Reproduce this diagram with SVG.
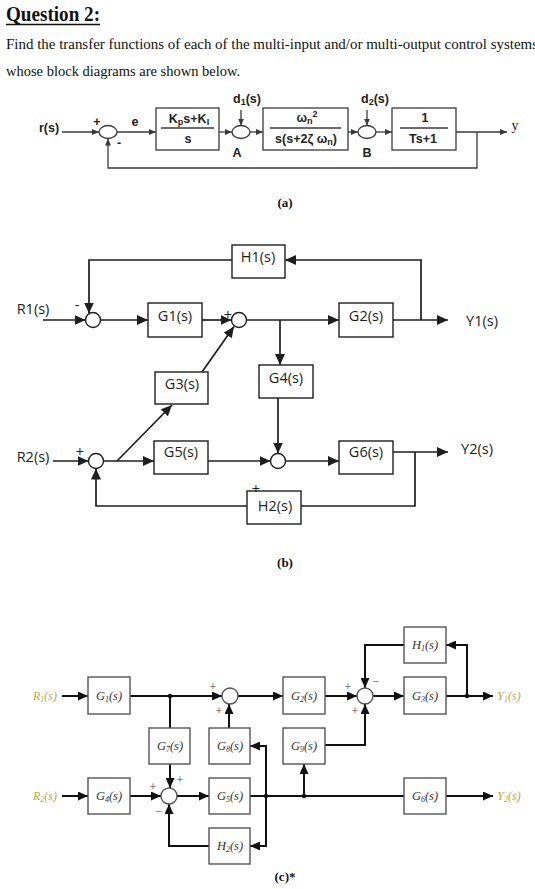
<svg xmlns="http://www.w3.org/2000/svg" width="535" height="889" viewBox="0 0 535 889">
<style>
.bg{fill:#fff}
.hd{font-family:"Liberation Serif",serif;fill:#111}
.cap{font-family:"Liberation Serif",serif;font-weight:bold;font-size:13px;fill:#111;text-anchor:middle}
.la{stroke:#3a3a3a;stroke-width:1.3;fill:none}
.ba{stroke:#3a3a3a;stroke-width:1.3;fill:#fff}
.ta{font-family:"Liberation Sans",Arial,sans-serif;font-size:12.5px;font-weight:bold;fill:#222;text-anchor:middle}
.lb{stroke:#1e1e1e;stroke-width:1.7;fill:none}
.bb{stroke:#1e1e1e;stroke-width:1.4;fill:#fff}
.tb{font-family:"Open Sans","Noto Sans",sans-serif;font-size:14.5px;fill:#1e1e1e;text-anchor:middle}
.lc{stroke:#111;stroke-width:2;fill:none}
.bc{stroke:#555;stroke-width:1.4;fill:#fff}
.tc{font-family:"Liberation Serif",serif;font-style:italic;font-size:12.5px;fill:#333;text-anchor:middle}
.io{font-family:"Liberation Serif",serif;font-style:italic;font-size:12px;fill:#c2a63a;text-anchor:middle}
.sg{font-family:"Liberation Serif",serif;font-size:12px;fill:#444;text-anchor:middle}
</style>
<defs>
<marker id="ma" markerUnits="userSpaceOnUse" markerWidth="7" markerHeight="6" refX="7" refY="3" orient="auto"><path d="M0,0 L7,3 L0,6 z" fill="#3a3a3a"/></marker>
<marker id="mb" markerUnits="userSpaceOnUse" markerWidth="11" markerHeight="10" refX="11" refY="5" orient="auto"><path d="M0,0 L11,5 L0,10 z" fill="#1e1e1e"/></marker>
<marker id="mc" markerUnits="userSpaceOnUse" markerWidth="10" markerHeight="9" refX="10" refY="4.5" orient="auto"><path d="M0,0 L10,4.5 L0,9 z" fill="#111"/></marker>
</defs>
<rect class="bg" x="0" y="0" width="535" height="889"/>

<g id="header">
<text class="hd" x="6" y="21" font-size="21" font-weight="bold" textLength="94" lengthAdjust="spacingAndGlyphs">Question 2:</text>
<line x1="6" y1="24.5" x2="100" y2="24.5" stroke="#111" stroke-width="1.5"/>
<text class="hd" x="6" y="49" font-size="14.5" textLength="532" lengthAdjust="spacingAndGlyphs">Find the transfer functions of each of the multi-input and/or multi-output control systems</text>
<text class="hd" x="6" y="76" font-size="14.5">whose block diagrams are shown below.</text>
</g>

<!-- ===== (a) ===== -->
<g id="a-connectors">
<line class="la" x1="62" y1="132" x2="99" y2="132" marker-end="url(#ma)"/>
<line class="la" x1="117" y1="132" x2="156" y2="132" marker-end="url(#ma)"/>
<line class="la" x1="219" y1="132" x2="232" y2="132" marker-end="url(#ma)"/>
<line class="la" x1="241" y1="110" x2="241" y2="125.5" marker-end="url(#ma)"/>
<line class="la" x1="250" y1="132" x2="263" y2="132" marker-end="url(#ma)"/>
<line class="la" x1="348" y1="132" x2="358" y2="132" marker-end="url(#ma)"/>
<line class="la" x1="367" y1="110" x2="367" y2="125.5" marker-end="url(#ma)"/>
<line class="la" x1="376" y1="132" x2="392" y2="132" marker-end="url(#ma)"/>
<line class="la" x1="456" y1="132" x2="507" y2="132" marker-end="url(#ma)"/>
<polyline class="la" points="477,132 477,168 108,168 108,138.5" marker-end="url(#ma)"/>
</g>
<g id="a-labels">
<text class="ta" x="49" y="132">r(s)</text>
<text class="ta" x="97" y="126">+</text>
<text class="ta" x="119" y="147">-</text>
<text class="ta" x="135" y="126">e</text>
<text class="ta" x="247" y="103">d<tspan font-size="9" dy="2">1</tspan><tspan dy="-2">(s)</tspan></text>
<text class="ta" x="237" y="157">A</text>
<text class="ta" x="375" y="103">d<tspan font-size="9" dy="2">2</tspan><tspan dy="-2">(s)</tspan></text>
<text class="ta" x="367" y="157">B</text>
<text x="515" y="130" font-family="Liberation Serif,serif" font-size="14" fill="#222" text-anchor="middle">y</text>
<text class="cap" x="285" y="207">(a)</text>
</g>
<g id="a-sum1"><ellipse class="ba" cx="108" cy="132" rx="9" ry="6.5"/></g>
<g id="a-sumA"><ellipse class="ba" cx="241" cy="132" rx="9" ry="6.5"/></g>
<g id="a-sumB"><ellipse class="ba" cx="367" cy="132" rx="9" ry="6.5"/></g>
<g id="a-pi">
<rect class="ba" x="156" y="108" width="63" height="42"/>
<line class="la" x1="161" y1="128" x2="214" y2="128"/>
<text class="ta" x="189" y="123">K<tspan font-size="9" dy="2">p</tspan><tspan dy="-2">s+K</tspan><tspan font-size="9" dy="2">I</tspan></text>
<text class="ta" x="188" y="143">s</text>
</g>
<g id="a-plant">
<rect class="ba" x="263" y="108" width="85" height="42"/>
<line class="la" x1="270" y1="128" x2="341" y2="128"/>
<text class="ta" x="307" y="122">ω<tspan font-size="9" dy="2">n</tspan><tspan font-size="9" dy="-7">2</tspan></text>
<text class="ta" x="306" y="143">s(s+2ζ ω<tspan font-size="9" dy="2">n</tspan><tspan dy="-2">)</tspan></text>
</g>
<g id="a-lag">
<rect class="ba" x="392" y="108" width="64" height="42"/>
<line class="la" x1="400" y1="128" x2="448" y2="128"/>
<text class="ta" x="425" y="122">1</text>
<text class="ta" x="423" y="143">Ts+1</text>
</g>

<!-- ===== (b) ===== -->
<g id="b-connectors">
<polyline class="lb" points="421,320 421,260 285,260" marker-end="url(#mb)"/>
<polyline class="lb" points="232,260 89,260 89,313.5" marker-end="url(#mb)"/>
<line class="lb" x1="43" y1="320" x2="85.5" y2="320" marker-end="url(#mb)"/>
<line class="lb" x1="100.5" y1="320" x2="148" y2="320" marker-end="url(#mb)"/>
<line class="lb" x1="202" y1="320" x2="231.5" y2="320" marker-end="url(#mb)"/>
<line class="lb" x1="246.5" y1="320" x2="339" y2="320" marker-end="url(#mb)"/>
<line class="lb" x1="280" y1="320" x2="280" y2="365" marker-end="url(#mb)"/>
<line class="lb" x1="393" y1="320" x2="448" y2="320" marker-end="url(#mb)"/>
<line class="lb" x1="202" y1="372" x2="234" y2="326.5" marker-end="url(#mb)"/>
<line class="lb" x1="53" y1="461" x2="88.5" y2="461" marker-end="url(#mb)"/>
<line class="lb" x1="103.5" y1="461" x2="154" y2="461" marker-end="url(#mb)"/>
<line class="lb" x1="117" y1="461" x2="172" y2="405" marker-end="url(#mb)"/>
<line class="lb" x1="208" y1="461" x2="270.5" y2="461" marker-end="url(#mb)"/>
<line class="lb" x1="278" y1="398" x2="278" y2="453.5" marker-end="url(#mb)"/>
<line class="lb" x1="285.5" y1="461" x2="339" y2="461" marker-end="url(#mb)"/>
<line class="lb" x1="393" y1="452" x2="448" y2="452" marker-end="url(#mb)"/>
<polyline class="lb" points="415,452 415,506 301,506"/>
<polyline class="lb" points="247,506 96,506 96,468.5" marker-end="url(#mb)"/>
</g>
<g id="b-labels">
<text class="tb" x="33" y="314">R1(s)</text>
<text class="tb" x="482" y="326">Y1(s)</text>
<text class="tb" x="33" y="462">R2(s)</text>
<text class="tb" x="477" y="454">Y2(s)</text>
<text class="tb" x="77" y="310">-</text>
<text class="tb" x="228" y="320" font-size="12">+</text>
<text class="tb" x="80" y="457" font-size="12">+</text>
<text class="cap" x="285" y="567">(b)</text>
</g>
<g id="b-sum1"><circle class="bb" cx="93" cy="320" r="7.5"/></g>
<g id="b-sum2"><circle class="bb" cx="239" cy="320" r="7.5"/></g>
<g id="b-sum3"><circle class="bb" cx="96" cy="461" r="7.5"/></g>
<g id="b-sum4"><circle class="bb" cx="278" cy="461" r="7.5"/></g>
<g id="b-H1"><rect class="bb" x="232" y="245" width="53" height="33"/><text class="tb" x="258" y="262">H1(s)</text></g>
<g id="b-G1"><rect class="bb" x="148" y="303" width="54" height="34"/><text class="tb" x="175" y="321">G1(s)</text></g>
<g id="b-G2"><rect class="bb" x="339" y="303" width="54" height="34"/><text class="tb" x="366" y="321">G2(s)</text></g>
<g id="b-G3"><rect class="bb" x="155" y="372" width="53" height="32"/><text class="tb" x="182" y="389">G3(s)</text></g>
<g id="b-G4"><rect class="bb" x="259" y="365" width="54" height="33"/><text class="tb" x="286" y="383">G4(s)</text></g>
<g id="b-G5"><rect class="bb" x="154" y="441" width="54" height="33"/><text class="tb" x="181" y="457">G5(s)</text></g>
<g id="b-G6"><rect class="bb" x="339" y="441" width="54" height="33"/><text class="tb" x="366" y="457">G6(s)</text></g>
<g id="b-H2"><rect class="bb" x="247" y="491" width="54" height="33"/><text class="tb" x="275" y="511">H2(s)</text><text class="tb" x="256" y="493.5" font-size="8">+</text></g>

<!-- ===== (c) ===== -->
<g id="c-connectors">
<line class="lc" x1="62" y1="696" x2="88" y2="696" marker-end="url(#mc)"/>
<line class="lc" x1="130" y1="696" x2="222" y2="696" marker-end="url(#mc)"/>
<line class="lc" x1="170" y1="696" x2="170" y2="728"/>
<line class="lc" x1="229" y1="728" x2="229" y2="704" marker-end="url(#mc)"/>
<line class="lc" x1="238" y1="696" x2="283" y2="696" marker-end="url(#mc)"/>
<line class="lc" x1="325" y1="696" x2="357" y2="696" marker-end="url(#mc)"/>
<line class="lc" x1="373" y1="696" x2="404" y2="696" marker-end="url(#mc)"/>
<line class="lc" x1="446" y1="696" x2="493" y2="696" marker-end="url(#mc)"/>
<polyline class="lc" points="467,696 467,645 446,645" marker-end="url(#mc)"/>
<polyline class="lc" points="404,645 365,645 365,688" marker-end="url(#mc)"/>
<polyline class="lc" points="325,745 365,745 365,704" marker-end="url(#mc)"/>
<line class="lc" x1="62" y1="796" x2="88" y2="796" marker-end="url(#mc)"/>
<line class="lc" x1="130" y1="796" x2="161" y2="796" marker-end="url(#mc)"/>
<line class="lc" x1="170" y1="764" x2="170" y2="788" marker-end="url(#mc)"/>
<line class="lc" x1="177" y1="796" x2="209" y2="796" marker-end="url(#mc)"/>
<line class="lc" x1="250" y1="796" x2="404" y2="796"/>
<line class="lc" x1="304" y1="796" x2="304" y2="764" marker-end="url(#mc)"/>
<line class="lc" x1="266" y1="745" x2="266" y2="847"/>
<line class="lc" x1="266" y1="746" x2="250" y2="746" marker-end="url(#mc)"/>
<line class="lc" x1="266" y1="846" x2="250" y2="846" marker-end="url(#mc)"/>
<polyline class="lc" points="209,846 169,846 169,804" marker-end="url(#mc)"/>
<line class="lc" x1="446" y1="796" x2="493" y2="796" marker-end="url(#mc)"/>
<circle cx="170" cy="696" r="2.2" fill="#111"/>
<circle cx="467" cy="696" r="2.2" fill="#111"/>
<circle cx="266" cy="796" r="2.2" fill="#111"/>
<circle cx="304" cy="796" r="2.2" fill="#111"/>
</g>
<g id="c-labels">
<text class="io" x="45" y="700">R<tspan font-size="8" dy="2">1</tspan><tspan dy="-2">(s)</tspan></text>
<text class="io" x="45" y="800">R<tspan font-size="8" dy="2">2</tspan><tspan dy="-2">(s)</tspan></text>
<text class="io" x="509" y="700">Y<tspan font-size="8" dy="2">1</tspan><tspan dy="-2">(s)</tspan></text>
<text class="io" x="509" y="800">Y<tspan font-size="8" dy="2">2</tspan><tspan dy="-2">(s)</tspan></text>
<text class="sg" x="213" y="691">+</text>
<text class="sg" x="219" y="715">+</text>
<text class="sg" x="348" y="691">+</text>
<text class="sg" x="376" y="685">−</text>
<text class="sg" x="355" y="715">+</text>
<text class="sg" x="153" y="791">+</text>
<text class="sg" x="180" y="784">+</text>
<text class="sg" x="159" y="815">−</text>
<text class="cap" x="285" y="881">(c)*</text>
</g>
<g id="c-sum1"><circle class="bc" cx="230" cy="696" r="8"/></g>
<g id="c-sum2"><circle class="bc" cx="365" cy="696" r="8"/></g>
<g id="c-sum3"><circle class="bc" cx="169" cy="796" r="8"/></g>
<g id="c-G1"><rect class="bc" x="88" y="677" width="42" height="37"/><text class="tc" x="109" y="700">G<tspan font-size="8" dy="2">1</tspan><tspan dy="-2">(s)</tspan></text></g>
<g id="c-G2"><rect class="bc" x="283" y="677" width="42" height="37"/><text class="tc" x="304" y="700">G<tspan font-size="8" dy="2">2</tspan><tspan dy="-2">(s)</tspan></text></g>
<g id="c-G3"><rect class="bc" x="404" y="677" width="42" height="37"/><text class="tc" x="425" y="700">G<tspan font-size="8" dy="2">3</tspan><tspan dy="-2">(s)</tspan></text></g>
<g id="c-H1"><rect class="bc" x="404" y="627" width="42" height="36"/><text class="tc" x="425" y="649">H<tspan font-size="8" dy="2">1</tspan><tspan dy="-2">(s)</tspan></text></g>
<g id="c-G7"><rect class="bc" x="149" y="728" width="41" height="36"/><text class="tc" x="170" y="750">G<tspan font-size="8" dy="2">7</tspan><tspan dy="-2">(s)</tspan></text></g>
<g id="c-G8"><rect class="bc" x="209" y="728" width="41" height="36"/><text class="tc" x="230" y="750">G<tspan font-size="8" dy="2">8</tspan><tspan dy="-2">(s)</tspan></text></g>
<g id="c-G9"><rect class="bc" x="283" y="728" width="42" height="36"/><text class="tc" x="304" y="750">G<tspan font-size="8" dy="2">9</tspan><tspan dy="-2">(s)</tspan></text></g>
<g id="c-G4"><rect class="bc" x="88" y="778" width="42" height="36"/><text class="tc" x="109" y="800">G<tspan font-size="8" dy="2">4</tspan><tspan dy="-2">(s)</tspan></text></g>
<g id="c-G5"><rect class="bc" x="209" y="778" width="41" height="36"/><text class="tc" x="230" y="800">G<tspan font-size="8" dy="2">5</tspan><tspan dy="-2">(s)</tspan></text></g>
<g id="c-G6"><rect class="bc" x="404" y="778" width="42" height="36"/><text class="tc" x="425" y="800">G<tspan font-size="8" dy="2">6</tspan><tspan dy="-2">(s)</tspan></text></g>
<g id="c-H2"><rect class="bc" x="209" y="828" width="41" height="36"/><text class="tc" x="230" y="850">H<tspan font-size="8" dy="2">2</tspan><tspan dy="-2">(s)</tspan></text></g>
</svg>
